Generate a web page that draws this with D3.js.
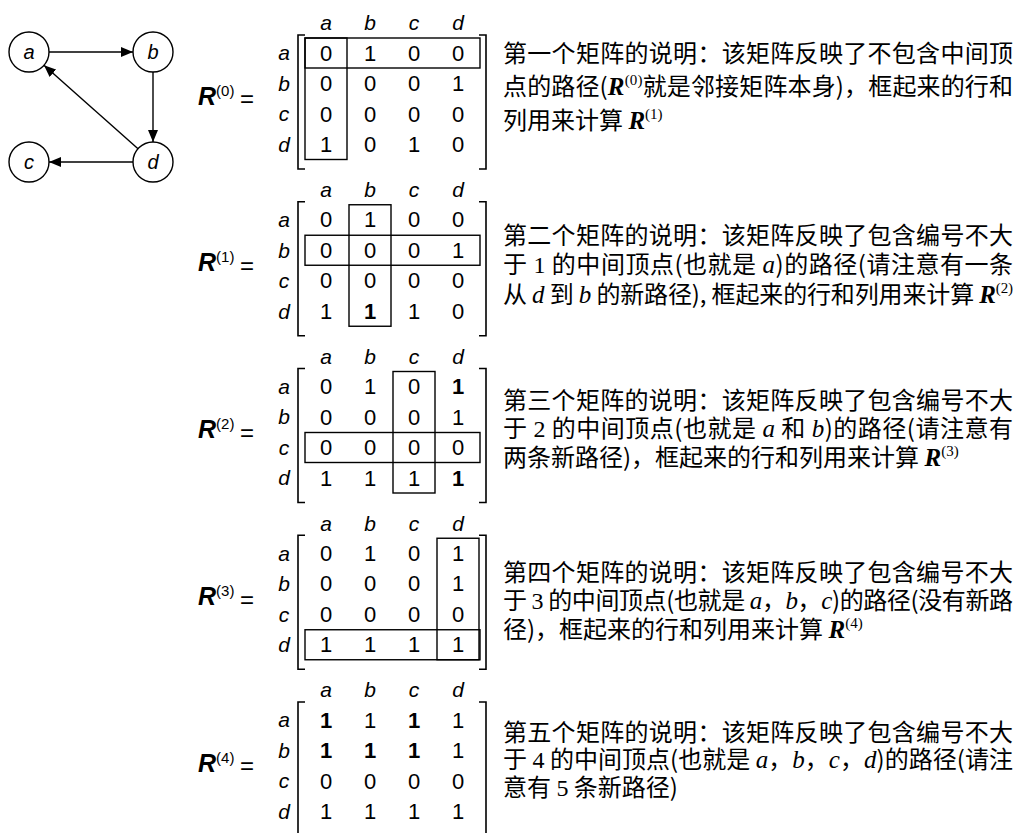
<!DOCTYPE html>
<html><head><meta charset="utf-8">
<script src="https://cdn.jsdelivr.net/npm/d3@7"></script>
<style>body{margin:0;background:#fff;} svg{display:block}</style>
</head><body>
<svg id="c" width="1017" height="833"></svg>
<script>
// ---------------- DATA ----------------
const nodes = ["a", "b", "c", "d"];
const nodeGridCol = [0, 1, 0, 1];
const nodeGridRow = [0, 0, 1, 1];
const edges = [["a", "b"], ["b", "d"], ["d", "a"], ["d", "c"]];

const R0 = [[0,1,0,0],[0,0,0,1],[0,0,0,0],[1,0,1,0]];
const R1 = [[0,1,0,0],[0,0,0,1],[0,0,0,0],[1,1,1,0]];
const R2 = [[0,1,0,1],[0,0,0,1],[0,0,0,0],[1,1,1,1]];
const R3 = [[0,1,0,1],[0,0,0,1],[0,0,0,0],[1,1,1,1]];
const R4 = [[1,1,1,1],[1,1,1,1],[0,0,0,0],[1,1,1,1]];
const matrices = [R0, R1, R2, R3, R4];
const matrixNames = ["(0)", "(1)", "(2)", "(3)", "(4)"];

// new paths (bold entries) as [row, col]
const bold0 = [];
const bold1 = [[3,1]];
const bold2 = [[0,3],[3,3]];
const bold3 = [];
const bold4 = [[0,0],[0,2],[1,0],[1,1],[1,2]];
const bolds = [bold0, bold1, bold2, bold3, bold4];

// framed row/column index for each matrix (null = none)
const framed = [0, 1, 2, 3, null];

const note1 = [
  [["z","第一个矩阵的说明：该矩阵反映了不包含中间顶"]],
  [["z","点的路径("],["R","R"],["s","(0)"],["z","就是邻接矩阵本身)，框起来的行和"]],
  [["z","列用来计算 "],["R","R"],["s","(1)"]]
];
const note2 = [
  [["z","第二个矩阵的说明：该矩阵反映了包含编号不大"]],
  [["z","于 "],["n","1"],["z"," 的中间顶点(也就是 "],["i","a"],["z",")的路径(请注意有一条"]],
  [["z","从 "],["i","d"],["z"," 到 "],["i","b"],["z"," 的新路径), 框起来的行和列用来计算 "],["R","R"],["s","(2)"]]
];
const note3 = [
  [["z","第三个矩阵的说明：该矩阵反映了包含编号不大"]],
  [["z","于 "],["n","2"],["z"," 的中间顶点(也就是 "],["i","a"],["z"," 和 "],["i","b"],["z",")的路径(请注意有"]],
  [["z","两条新路径)，框起来的行和列用来计算 "],["R","R"],["s","(3)"]]
];
const note4 = [
  [["z","第四个矩阵的说明：该矩阵反映了包含编号不大"]],
  [["z","于 "],["n","3"],["z"," 的中间顶点(也就是 "],["i","a"],["z","，"],["i","b"],["z","，"],["i","c"],["z",")的路径(没有新路"]],
  [["z","径)，框起来的行和列用来计算 "],["R","R"],["s","(4)"]]
];
const note5 = [
  [["z","第五个矩阵的说明：该矩阵反映了包含编号不大"]],
  [["z","于 "],["n","4"],["z"," 的中间顶点(也就是 "],["i","a"],["z","，"],["i","b"],["z","，"],["i","c"],["z","，"],["i","d"],["z",")的路径(请注"]],
  [["z","意有 "],["n","5"],["z"," 条新路径)"]]
];
const notes = [note1, note2, note3, note4, note5];
const fullWidthLines = [[0,1], [0,1,2], [0,1], [0,1], [0,1]];

// ---------------- LAYOUT ----------------
const svg = d3.select("#c");
const SANS = "'Liberation Sans', Arial, sans-serif";
const SERIF = "'Liberation Serif', 'Times New Roman', serif";
const CJK = "'Noto Sans CJK SC', sans-serif";

// ---- graph ----
const gx = d3.scalePoint().domain([0, 1]).range([29, 153]);
const gy = d3.scalePoint().domain([0, 1]).range([52, 162]);
const nodeR = 20;
const pos = {};
nodes.forEach((n, i) => pos[n] = [gx(nodeGridCol[i]), gy(nodeGridRow[i])]);

svg.append("defs").append("marker")
  .attr("id", "arr").attr("viewBox", "0 0 12 10").attr("refX", 12).attr("refY", 5)
  .attr("markerWidth", 12).attr("markerHeight", 10).attr("markerUnits", "userSpaceOnUse")
  .attr("orient", "auto")
  .append("path").attr("d", "M0,0 L12,5 L0,10 Z").attr("fill", "#000");

const graph = svg.append("g");
graph.selectAll("line.edge").data(edges).join("line")
  .attr("class", "edge")
  .each(function(e) {
    const [x1, y1] = pos[e[0]], [x2, y2] = pos[e[1]];
    const L = Math.hypot(x2 - x1, y2 - y1), ux = (x2 - x1) / L, uy = (y2 - y1) / L;
    d3.select(this)
      .attr("x1", x1 + ux * nodeR).attr("y1", y1 + uy * nodeR)
      .attr("x2", x2 - ux * nodeR).attr("y2", y2 - uy * nodeR);
  })
  .attr("stroke", "#000").attr("stroke-width", 1.4).attr("marker-end", "url(#arr)");

const ng = graph.selectAll("g.node").data(nodes).join("g")
  .attr("transform", d => `translate(${pos[d][0]},${pos[d][1]})`);
ng.append("circle").attr("r", nodeR).attr("fill", "#fff").attr("stroke", "#000").attr("stroke-width", 1.4);
ng.append("text").text(d => d).attr("text-anchor", "middle").attr("dy", "0.35em")
  .attr("font-family", SANS).attr("font-style", "italic").attr("font-size", 20);

// ---- matrices ----
const my = d3.scaleLinear().domain([0, 4]).range([23, 690]);   // header centre
const colX = d3.scalePoint().domain(nodes).range([326, 458]);
const rowY = d3.scalePoint().domain(nodes).range([30, 121.5]); // offset from header
const halfW = 21, halfH = 15;

matrices.forEach((M, k) => {
  const y0 = my(k);
  const g = svg.append("g").attr("transform", `translate(0,${y0})`);

  // label R^(k) =
  const lab = g.append("text").attr("x", 198).attr("y", 76).attr("dy", "0.35em")
    .attr("font-family", SANS);
  lab.append("tspan").text("R").attr("font-weight", "bold").attr("font-style", "italic").attr("font-size", 25);
  lab.append("tspan").text(matrixNames[k]).attr("font-size", 15).attr("dy", -9);
  g.append("text").text("=").attr("x", 240).attr("y", 76).attr("dy", "0.35em")
    .attr("font-family", SANS).attr("font-size", 24);

  // column headers
  g.selectAll("text.ch").data(nodes).join("text").attr("class", "ch")
    .attr("x", d => colX(d)).attr("y", 0).attr("dy", "0.35em").text(d => d)
    .attr("text-anchor", "middle").attr("font-family", SANS).attr("font-style", "italic").attr("font-size", 21);
  // row labels
  g.selectAll("text.rh").data(nodes).join("text").attr("class", "rh")
    .attr("x", 284).attr("y", d => rowY(d)).attr("dy", "0.35em").text(d => d)
    .attr("text-anchor", "middle").attr("font-family", SANS).attr("font-style", "italic").attr("font-size", 21);

  // cells
  const cells = [];
  M.forEach((row, r) => row.forEach((v, c) => cells.push({r, c, v,
    b: bolds[k].some(p => p[0] === r && p[1] === c)})));
  g.selectAll("text.cell").data(cells).join("text").attr("class", "cell")
    .attr("x", d => colX(nodes[d.c])).attr("y", d => rowY(nodes[d.r])).attr("dy", "0.35em")
    .text(d => d.v).attr("text-anchor", "middle").attr("font-family", SANS)
    .attr("font-size", 22).attr("font-weight", d => d.b ? "bold" : "normal");

  // brackets
  const bt = 12, bb = 146, lx = 298, rx = 486, serif = 7;
  g.append("path").attr("d", `M${lx + serif},${bt} H${lx} V${bb} H${lx + serif}`)
    .attr("fill", "none").attr("stroke", "#000").attr("stroke-width", 1.6);
  g.append("path").attr("d", `M${rx - serif},${bt} H${rx} V${bb} H${rx - serif}`)
    .attr("fill", "none").attr("stroke", "#000").attr("stroke-width", 1.6);

  // framed row and column
  if (framed[k] !== null) {
    const key = nodes[framed[k]];
    g.append("rect")
      .attr("x", colX("a") - halfW).attr("width", colX("d") - colX("a") + 2 * halfW + 1)
      .attr("y", rowY(key) - halfH).attr("height", 2 * halfH)
      .attr("fill", "none").attr("stroke", "#000").attr("stroke-width", 1.4);
    g.append("rect")
      .attr("x", colX(key) - halfW).attr("width", 2 * halfW)
      .attr("y", rowY("a") - halfH).attr("height", rowY("d") - rowY("a") + 2 * halfH)
      .attr("fill", "none").attr("stroke", "#000").attr("stroke-width", 1.4);
  }
});

// ---- notes ----
const noteFirst = [53, 235, 400, 572, 732];
const notePitch = [33.5, 29.5, 28.5, 28.5, 27.5];
const styleOf = {
  z: {ff: CJK, fs: 24},
  n: {ff: SERIF, fs: 24},
  i: {ff: SERIF, fs: 25, it: true},
  R: {ff: SERIF, fs: 25, it: true, bold: true},
  s: {ff: SERIF, fs: 15, sup: true}
};
notes.forEach((lines, k) => {
  lines.forEach((segs, li) => {
    const t = svg.append("text").attr("x", 503)
      .attr("y", noteFirst[k] + notePitch[k] * li + 8.5);
    let shift = 0;
    segs.forEach(([kind, str]) => {
      const st = styleOf[kind];
      const ts = t.append("tspan").text(str)
        .attr("font-family", st.ff).attr("font-size", st.fs);
      if (st.it) ts.attr("font-style", "italic");
      if (st.bold) ts.attr("font-weight", "bold");
      const target = st.sup ? -10 : 0;
      if (target !== shift) { ts.attr("dy", target - shift); shift = target; }
    });
    if (fullWidthLines[k].includes(li)) t.attr("textLength", 510).attr("lengthAdjust", "spacing");
  });
});
</script>
</body></html>
